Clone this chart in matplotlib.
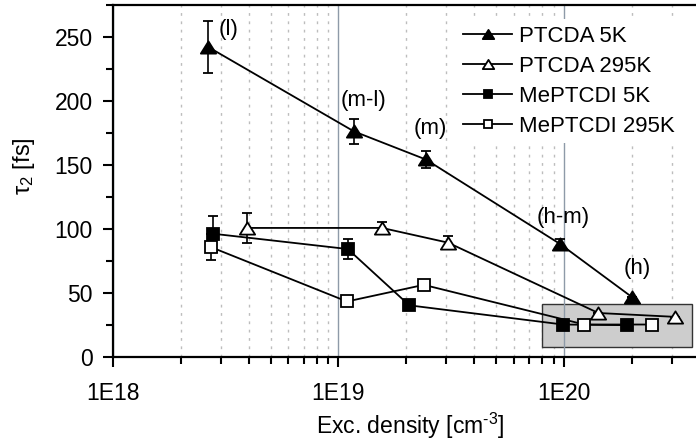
import matplotlib
matplotlib.use("Agg")
import matplotlib.pyplot as plt
from matplotlib.patches import Rectangle
from matplotlib.path import Path
from matplotlib.ticker import FixedLocator, FixedFormatter, LogLocator, NullFormatter, MultipleLocator

plt.rcParams['font.family'] = ['Liberation Sans', 'DejaVu Sans']
plt.rcParams['mathtext.fontset'] = 'custom'
plt.rcParams['mathtext.rm'] = 'Liberation Sans'
plt.rcParams['mathtext.it'] = 'Liberation Sans'

# ---- data: excitation density (cm^-3) and tau_2 (fs) ----
ptcda_5k_x = [2.64e18, 1.17e19, 2.44e19, 9.6e19, 2.0e20]
ptcda_5k_y = [242, 176, 154, 88, 46.5]
ptcda_5k_err = [20, 10, 7, 4, 0]

ptcda_295k_x = [3.93e18, 1.56e19, 3.06e19, 1.42e20, 3.1e20]
ptcda_295k_y = [100.5, 100.5, 89, 34, 31]
ptcda_295k_err = [12, 5, 5, 0, 0]

me_5k_x = [2.77e18, 1.10e19, 2.06e19, 9.9e19, 1.9e20]
me_5k_y = [96, 84, 40, 25, 24.5]
me_5k_err = [14, 8, 0, 0, 0]

me_295k_x = [2.72e18, 1.09e19, 2.39e19, 1.23e20, 2.46e20]
me_295k_y = [85.5, 43, 56, 25, 25]
me_295k_err = [10, 0, 0, 0, 0]

series_labels = ['PTCDA 5K', 'PTCDA 295K', 'MePTCDI 5K', 'MePTCDI 295K']

# regime labels next to the PTCDA 5K points
regime_labels = ['(l)', '(m-l)', '(m)', '(h-m)', '(h)']
regime_x = [3.27e18, 1.29e19, 2.55e19, 9.9e19, 2.11e20]
regime_y = [256, 200, 178.5, 109, 69]

# shaded high-density region
box_x = [8.0e19, 3.7e20]
box_y = [7.5, 41]

x_ticks = [1e18, 1e19, 1e20]
x_tick_labels = ['1E18', '1E19', '1E20']
x_limits = [1e18, 3.85e20]
y_limits = [0, 275]

# ---- figure ----
W, H = 696, 446
fig = plt.figure(figsize=(W / 100, H / 100), dpi=100)
ax = fig.add_axes([113 / W, 89.5 / H, 583 / W, 351.8 / H])

ax.set_xscale('log')
ax.set_xlim(*x_limits)
ax.set_ylim(*y_limits)

# flattened triangle marker
tri = Path([(-1, -0.8), (1, -0.8), (0, 0.8), (-1, -0.8)],
           [Path.MOVETO, Path.LINETO, Path.LINETO, Path.CLOSEPOLY])

styles = [
    dict(marker=tri, markersize=11, markerfacecolor='black'),
    dict(marker=tri, markersize=11, markerfacecolor='white'),
    dict(marker='s', markersize=8.6, markerfacecolor='black'),
    dict(marker='s', markersize=8.6, markerfacecolor='white'),
]
datasets = [
    (ptcda_5k_x, ptcda_5k_y, ptcda_5k_err),
    (ptcda_295k_x, ptcda_295k_y, ptcda_295k_err),
    (me_5k_x, me_5k_y, me_5k_err),
    (me_295k_x, me_295k_y, me_295k_err),
]

data_lines = []
for (xs, ys, es), st, lab in zip(datasets, styles, series_labels):
    cont = ax.errorbar(xs, ys, yerr=es, color='black', lw=1.3, elinewidth=1.2,
                       capsize=3.5, capthick=1.2, markeredgecolor='black',
                       markeredgewidth=1.3, label=lab, zorder=3, **st)
    data_lines.append(cont[0])

# shaded box
ax.add_patch(Rectangle((box_x[0], box_y[0]), box_x[1] - box_x[0], box_y[1] - box_y[0],
                       facecolor='#cdcdcd', edgecolor='#333333', lw=1.0, zorder=0.8))

# vertical grid: dotted at minor decades, solid at major decades
ax.xaxis.set_major_locator(FixedLocator(x_ticks))
ax.xaxis.set_major_formatter(FixedFormatter(x_tick_labels))
ax.xaxis.set_minor_locator(LogLocator(base=10, subs=range(2, 10)))
ax.xaxis.set_minor_formatter(NullFormatter())
ax.set_axisbelow(True)
ax.grid(which='minor', axis='x', color='#bdbdbd', lw=1.0, linestyle=(0, (2, 4)))
for xv in x_ticks:
    ax.axvline(xv, color='#8e9aa8', lw=1.0, zorder=0.9)

ax.yaxis.set_major_locator(MultipleLocator(50))
ax.yaxis.set_minor_locator(MultipleLocator(25))

for s in ['left', 'bottom', 'top']:
    ax.spines[s].set_linewidth(1.6)
ax.spines['right'].set_visible(False)

ax.tick_params(which='major', direction='out', length=7.5, width=1.5,
               labelsize=16.5, pad=7, top=False, right=False)
ax.tick_params(which='minor', direction='out', length=5, width=1.5,
               top=False, right=False)
ax.tick_params(axis='x', which='major', pad=11)

for lab, xv, yv in zip(regime_labels, regime_x, regime_y):
    ax.text(xv, yv, lab, fontsize=16, ha='center', va='center', zorder=4)

ax.set_xlabel('Exc. density [cm$^{\\mathrm{\u2010}3}$]', fontsize=16.5)
ax.set_ylabel('τ$_{\\mathrm{2}}$ [fs]', fontsize=17)
ax.xaxis.set_label_coords(0.51, -0.155)
ax.yaxis.set_label_coords(-0.13, 0.54)

leg = ax.legend(handles=data_lines, labels=series_labels,
                loc='upper left', bbox_to_anchor=(0.57, 0.99), fontsize=16,
                frameon=True, facecolor='white', edgecolor='none', framealpha=1,
                fancybox=False, borderpad=0.3, labelspacing=0.4,
                handlelength=2.2, handletextpad=0.3, markerscale=0.75)
leg.set_zorder(5)

fig.savefig('out.png', dpi=100)
